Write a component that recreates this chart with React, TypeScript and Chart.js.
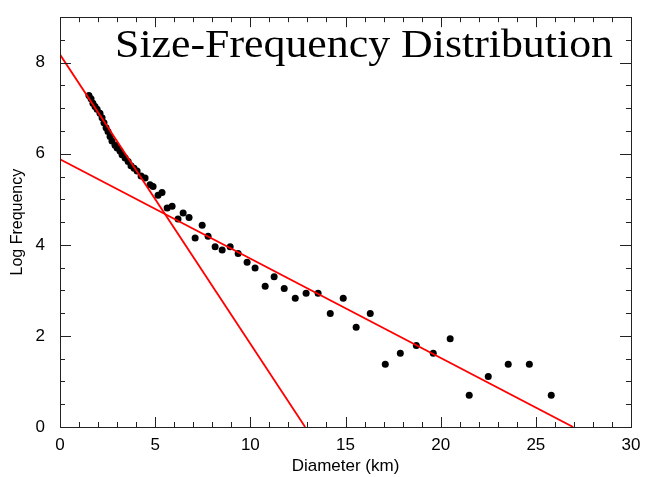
import React, { useEffect, useRef } from "react";
import { Chart, registerables } from "chart.js";

Chart.register(...registerables);

// Crater size-frequency data (diameter km, log frequency)
const diameters = [
  1.52, 1.63, 1.73, 1.84, 1.95, 2.1, 2.21, 2.31, 2.42, 2.52, 2.63, 2.73, 2.89, 3.0,
  3.15, 3.26, 3.42, 3.58, 3.73, 3.89, 4.05, 4.26, 4.47, 4.73, 4.89, 5.15, 5.36, 5.63,
  5.89, 6.2, 6.47, 6.78, 7.1, 7.47, 7.78, 8.15, 8.52, 8.94, 9.36, 9.83, 10.25, 10.78,
  11.25, 11.78, 12.36, 12.93, 13.56, 14.2, 14.88, 15.56, 16.3, 17.09, 17.88, 18.72,
  19.61, 20.5, 21.5, 22.5, 23.55, 24.66, 25.81,
];
const logFrequency = [
  7.28, 7.21, 7.11, 7.04, 6.98, 6.89, 6.79, 6.68, 6.57, 6.49, 6.38, 6.28, 6.19, 6.13,
  6.06, 5.98, 5.91, 5.83, 5.74, 5.68, 5.62, 5.51, 5.47, 5.32, 5.28, 5.09, 5.15, 4.81,
  4.85, 4.57, 4.7, 4.6, 4.15, 4.43, 4.19, 3.96, 3.89, 3.96, 3.81, 3.62, 3.49, 3.09,
  3.3, 3.04, 2.83, 2.94, 2.94, 2.49, 2.83, 2.19, 2.49, 1.38, 1.62, 1.79, 1.62, 1.94,
  0.7, 1.11, 1.38, 1.38, 0.7,
];
// Fitted lines (endpoints)
const steepFitX = [0, 12.88];
const steepFitY = [8.18, 0];
const shallowFitX = [0, 26.96];
const shallowFitY = [5.88, 0];

const xMajorTicks = [0, 5, 10, 15, 20, 25, 30];
const yMajorTicks = [0, 2, 4, 6, 8];

const TITLE = "Size-Frequency Distribution";
const X_TITLE = "Diameter (km)";
const Y_TITLE = "Log Frequency";

const framePlugin = {
  id: "frame",
  afterDraw(chart: any) {
    const { ctx, chartArea: a, scales } = chart;
    const xs = scales.x;
    const ys = scales.y;
    ctx.save();
    ctx.strokeStyle = "#222";
    ctx.lineWidth = 1;
    // box
    ctx.strokeRect(Math.round(a.left) + 0.5, Math.round(a.top) + 0.5, Math.round(a.right - a.left), Math.round(a.bottom - a.top));
    ctx.beginPath();
    // x ticks (inside, bottom & top)
    for (let v = xs.min; v <= xs.max + 1e-9; v += 1) {
      const px = Math.round(xs.getPixelForValue(v)) + 0.5;
      const len = xMajorTicks.includes(v) ? 10 : 5;
      ctx.moveTo(px, a.bottom);
      ctx.lineTo(px, a.bottom - len);
      ctx.moveTo(px, a.top);
      ctx.lineTo(px, a.top + len);
    }
    // y ticks (inside, left & right)
    for (let v = ys.min; v <= ys.max + 1e-9; v += 0.5) {
      const py = Math.round(ys.getPixelForValue(v)) + 0.5;
      const len = yMajorTicks.includes(v) ? 11 : 5;
      ctx.moveTo(a.left, py);
      ctx.lineTo(a.left + len, py);
      ctx.moveTo(a.right, py);
      ctx.lineTo(a.right - len, py);
    }
    ctx.stroke();

    // axis titles
    ctx.fillStyle = "#000";
    ctx.textAlign = "center";
    ctx.textBaseline = "middle";
    ctx.font = "17px 'Liberation Sans', Arial, sans-serif";
    ctx.fillText(X_TITLE, (a.left + a.right) / 2, 466);
    ctx.font = "16px 'Liberation Sans', Arial, sans-serif";
    ctx.save();
    ctx.translate(18, (a.top + a.bottom) / 2);
    ctx.rotate(-Math.PI / 2);
    ctx.fillText(Y_TITLE, 0, 0);
    ctx.restore();

    // main title inside plot
    ctx.font = "41px 'Liberation Serif', 'Times New Roman', serif";
    ctx.textAlign = "left";
    ctx.textBaseline = "alphabetic";
    const w = ctx.measureText(TITLE).width;
    const target = 498;
    ctx.save();
    ctx.translate(115, 57);
    ctx.scale(target / w, 1);
    ctx.fillText(TITLE, 0, 0);
    ctx.restore();
    ctx.restore();
  },
};

export default function App() {
  const ref = useRef<HTMLCanvasElement | null>(null);
  useEffect(() => {
    if (!ref.current) return;
    const points = diameters.map((d, i) => ({ x: d, y: logFrequency[i] }));
    const steep = steepFitX.map((x, i) => ({ x, y: steepFitY[i] }));
    const shallow = shallowFitX.map((x, i) => ({ x, y: shallowFitY[i] }));
    const chart = new Chart(ref.current, {
      type: "scatter",
      data: {
        datasets: [
          {
            type: "line",
            data: steep,
            borderColor: "#ff0000",
            borderWidth: 1.8,
            pointRadius: 0,
            showLine: true,
            order: 0,
          } as any,
          {
            type: "line",
            data: shallow,
            borderColor: "#ff0000",
            borderWidth: 1.8,
            pointRadius: 0,
            showLine: true,
            order: 0,
          } as any,
          {
            data: points,
            backgroundColor: "#000",
            borderColor: "#000",
            pointRadius: 3.5,
            borderWidth: 0,
            order: 1,
          },
        ],
      },
      options: {
        responsive: false,
        animation: false,
        devicePixelRatio: 1,
        layout: { padding: { top: 5, right: 18, bottom: 0, left: 0 } },
        plugins: { legend: { display: false }, tooltip: { enabled: false } },
        scales: {
          x: {
            type: "linear",
            min: 0,
            max: 30,
            grid: { display: false },
            border: { display: false },
            ticks: {
              stepSize: 5,
              includeBounds: false,
              padding: 0,
              color: "#000",
              font: { family: "'Liberation Sans', Arial, sans-serif", size: 17 },
            },
            afterFit: (s: any) => {
              s.height = 50;
            },
          },
          y: {
            type: "linear",
            min: 0,
            max: 9,
            grid: { display: false },
            border: { display: false },
            ticks: {
              stepSize: 2,
              includeBounds: false,
              padding: 7,
              color: "#000",
              font: { family: "'Liberation Sans', Arial, sans-serif", size: 17 },
            },
            afterFit: (s: any) => {
              s.width = 60;
            },
          },
        },
      },
      plugins: [framePlugin],
    });
    return () => chart.destroy();
  }, []);
  return (
    <div style={{ position: "absolute", left: 0, top: 0, width: 649, height: 477, background: "#fff" }}>
      <canvas ref={ref} width={649} height={477} style={{ display: "block" }} />
    </div>
  );
}
